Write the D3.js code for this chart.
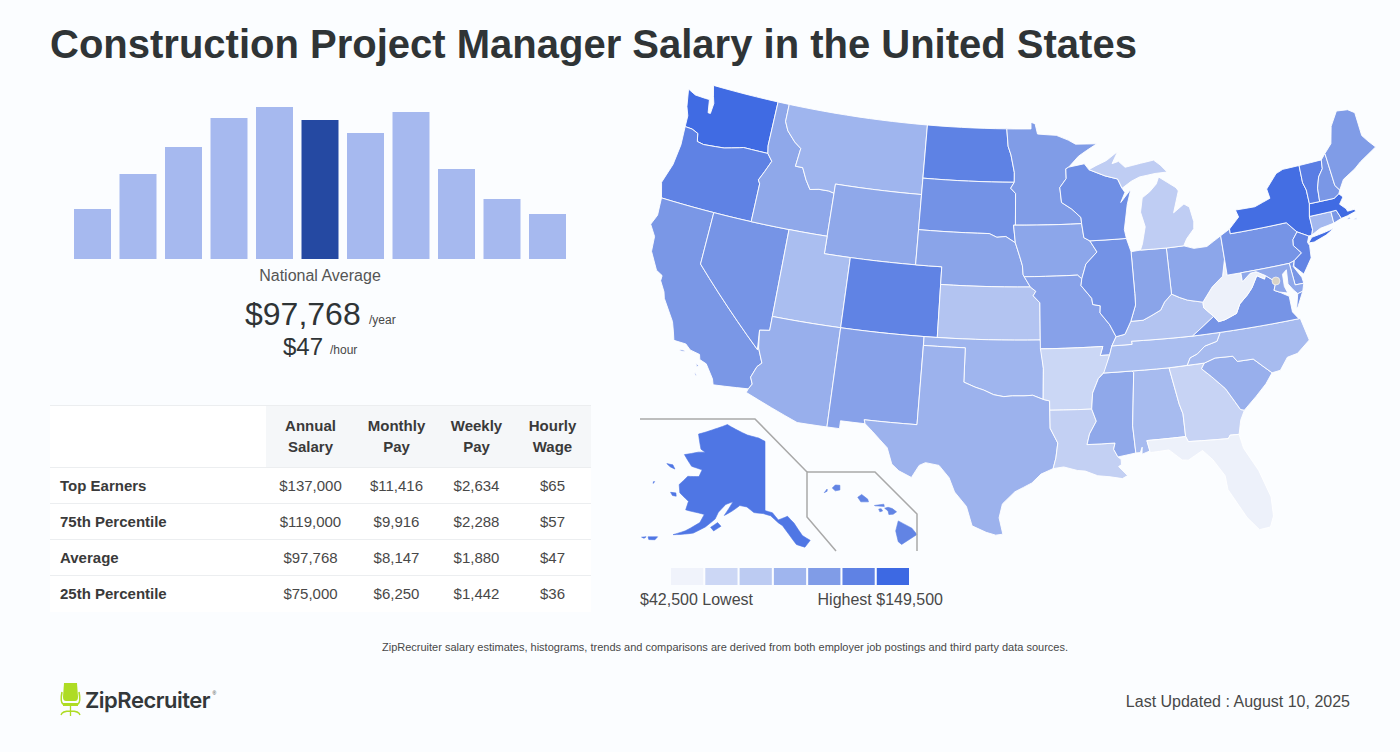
<!DOCTYPE html>
<html>
<head>
<meta charset="utf-8">
<script src="https://cdn.jsdelivr.net/npm/d3@7"></script>
<style>
  html, body { margin: 0; padding: 0; background: #fbfdff; }
  svg { display: block; font-family: "Liberation Sans", Arial, sans-serif; }
</style>
</head>
<body>
<svg id="chart" width="1400" height="752"></svg>
<script>
// histogram
const histogramBins = ['b1', 'b2', 'b3', 'b4', 'b5', 'b6', 'b7', 'b8', 'b9', 'b10', 'b11']
const histogramValues = [50, 85, 112, 141, 152, 139, 126, 147, 90, 60, 45]
const averageBin = 'b6'

// table
const tableColumns = [['Annual', 'Salary'], ['Monthly', 'Pay'], ['Weekly', 'Pay'], ['Hourly', 'Wage']]
const tableRows = ['Top Earners', '75th Percentile', 'Average', '25th Percentile']
const annualSalary = ['$137,000', '$119,000', '$97,768', '$75,000']
const monthlyPay = ['$11,416', '$9,916', '$8,147', '$6,250']
const weeklyPay = ['$2,634', '$2,288', '$1,880', '$1,442']
const hourlyWage = ['$65', '$57', '$47', '$36']

// map legend
const legendColors = ['#f0f3fb', '#ccd7f5', '#bccbf2', '#9fb5ee', '#809ce7', '#5f82e4', '#3d69e3']
const legendMin = 42500
const legendMax = 149500

// estimated state salaries
const stateCodes = ['WA','OR','CA','NV','ID','MT','WY','UT','CO','AZ','NM','ND','SD','NE','KS','OK','TX','MN','IA','MO','AR','LA','MS','AL','GA','FL','SC','NC','TN','KY','VA','WV','OH','IN','IL','WI','MI','PA','NY','NJ','DE','MD','CT','RI','MA','VT','NH','ME','AK','HI']
const stateSalaries = [148000,131700,117000,119000,105000,96000,105000,89000,131000,100000,110000,132000,121000,108000,84000,96000,98000,114000,107000,110000,61000,70000,105000,91000,66000,44000,100000,91000,89000,84000,119000,44000,107000,108000,121000,123000,75000,119000,146000,130000,117000,105000,93000,117000,148000,135000,117000,114000,140000,130000]
const dcLocation = [-77.03, 38.9]

// state outlines, [lon, lat] rings
const stateOutlines = {
  WA: [[[-124.7,48.38],[-124.0,48.17],[-123.1,48.15],[-122.75,48.15],[-122.55,47.4],[-122.35,47.4],[-122.3,48.0],[-122.5,48.4],[-122.75,49],[-117.03,49],[-117.04,46.42],[-116.92,45.99],[-118.98,46],[-119.3,45.93],[-120.5,45.7],[-121.2,45.65],[-122.2,45.58],[-122.75,45.65],[-122.9,46.1],[-123.45,46.25],[-124.05,46.27],[-124.1,46.9],[-124.4,47.4]]],
  OR: [[[-124.05,46.27],[-123.45,46.25],[-122.9,46.1],[-122.75,45.65],[-122.2,45.58],[-121.2,45.65],[-120.5,45.7],[-119.3,45.93],[-118.98,46],[-116.92,45.99],[-116.47,45.6],[-116.85,44.95],[-117.2,44.4],[-117.03,44.2],[-117.03,42],[-124.2,42],[-124.55,42.85],[-124.1,44],[-123.95,45.2]]],
  CA: [[[-124.2,42],[-120,42],[-120,39],[-114.63,35],[-114.57,35.1],[-114.14,34.3],[-114.43,34.05],[-114.72,33.4],[-114.52,33.03],[-114.72,32.72],[-117.12,32.53],[-117.25,32.85],[-117.9,33.6],[-118.4,33.75],[-118.5,34.03],[-119.2,34.15],[-119.6,34.42],[-120.47,34.45],[-120.65,34.9],[-120.9,35.45],[-121.9,36.6],[-122.05,36.95],[-122.5,37.5],[-122.5,37.8],[-123,38],[-123.75,38.95],[-123.85,39.8],[-124.4,40.4],[-124.1,41]],
       [[-119.9,34.05],[-119.55,34.05],[-119.6,33.97],[-119.9,33.97]],[[-118.6,33.48],[-118.35,33.4],[-118.5,33.32]],[[-118.6,33.05],[-118.35,32.85],[-118.45,32.82]]],
  NV: [[[-120,42],[-114.04,42],[-114.04,36.2],[-114.75,36.1],[-114.63,35],[-120,39]]],
  ID: [[[-117.03,49],[-116.05,49],[-116.05,48],[-115.7,47.5],[-114.95,46.95],[-114.35,46.65],[-114.5,45.6],[-113.9,45.6],[-113.45,44.95],[-113,44.45],[-112.3,44.55],[-111.5,44.55],[-111.05,44.47],[-111.05,42],[-117.03,42],[-117.03,44.2],[-117.2,44.4],[-116.85,44.95],[-116.47,45.6],[-116.92,45.99],[-117.04,46.42]]],
  MT: [[[-116.05,49],[-104.05,49],[-104.05,45],[-111.05,45],[-111.05,44.47],[-111.5,44.55],[-112.3,44.55],[-113,44.45],[-113.45,44.95],[-113.9,45.6],[-114.5,45.6],[-114.35,46.65],[-114.95,46.95],[-115.7,47.5],[-116.05,48]]],
  WY: [[[-111.05,45],[-104.05,45],[-104.05,41],[-111.05,41]]],
  UT: [[[-114.04,42],[-111.05,42],[-111.05,41],[-109.05,41],[-109.05,37],[-114.04,37]]],
  CO: [[[-109.05,41],[-102.05,41],[-102.05,37],[-109.05,37]]],
  AZ: [[[-114.04,37],[-109.05,37],[-109.05,31.33],[-111.07,31.33],[-114.81,32.5],[-114.72,32.72],[-114.52,33.03],[-114.72,33.4],[-114.43,34.05],[-114.14,34.3],[-114.57,35.1],[-114.75,36.1],[-114.04,36.2]]],
  NM: [[[-109.05,37],[-103,37],[-103.04,32],[-106.62,32],[-106.53,31.78],[-108.2,31.78],[-108.2,31.33],[-109.05,31.33]]],
  ND: [[[-104.05,49],[-97.23,49],[-97.1,48],[-96.85,47.5],[-96.56,46.5],[-96.56,45.94],[-104.05,45.94]]],
  SD: [[[-104.05,45.94],[-96.56,45.94],[-96.85,45.6],[-96.45,45.3],[-96.45,43.5],[-96.6,43.5],[-96.45,42.5],[-97.2,42.85],[-97.9,42.8],[-98.5,43],[-104.05,43]]],
  NE: [[[-104.05,43],[-98.5,43],[-97.9,42.8],[-97.2,42.85],[-96.45,42.5],[-96.1,41.7],[-95.9,41.2],[-95.85,40.7],[-95.31,40],[-102.05,40],[-102.05,41],[-104.05,41]]],
  KS: [[[-102.05,40],[-95.31,40],[-94.9,39.75],[-95.1,39.5],[-94.61,39.1],[-94.62,37],[-102.05,37]]],
  OK: [[[-103,37],[-94.62,37],[-94.43,35.4],[-94.48,33.64],[-95.2,33.88],[-95.8,33.85],[-96.6,33.85],[-97.2,33.8],[-97.9,33.9],[-98.6,34.15],[-99.2,34.3],[-100,34.56],[-100,36.5],[-103,36.5]]],
  TX: [[[-106.62,32],[-103.04,32],[-103,36.5],[-100,36.5],[-100,34.56],[-99.2,34.3],[-98.6,34.15],[-97.9,33.9],[-97.2,33.8],[-96.6,33.85],[-95.8,33.85],[-95.2,33.88],[-94.48,33.64],[-94.04,33.55],[-94.04,32],[-93.55,31.15],[-93.7,30.3],[-93.9,29.7],[-94.7,29.4],[-95.3,28.9],[-96.4,28.4],[-97.2,27.7],[-97.4,26.9],[-97.15,25.96],[-97.6,25.9],[-98.2,26.05],[-99.1,26.4],[-99.5,27.5],[-100.3,28.3],[-100.7,29.1],[-101.4,29.77],[-102.3,29.88],[-102.7,29.7],[-103.15,28.98],[-104,29.3],[-104.5,29.65],[-104.9,30.55],[-106,31.4],[-106.53,31.78]]],
  MN: [[[-97.23,49],[-95.15,49],[-95.15,49.38],[-94.8,49.3],[-94.6,48.7],[-93,48.6],[-92,48.3],[-91.4,48.05],[-89.6,48],[-90.5,47.65],[-91.2,47.35],[-92.05,46.75],[-92.3,46.66],[-92.3,46.1],[-92.85,45.6],[-92.75,44.75],[-91.95,44.35],[-91.25,43.85],[-91.22,43.5],[-96.45,43.5],[-96.45,45.3],[-96.85,45.6],[-96.56,45.94],[-96.56,46.5],[-96.85,47.5],[-97.1,48]]],
  IA: [[[-96.6,43.5],[-91.22,43.5],[-91.1,42.7],[-90.65,42.5],[-90.15,41.85],[-91.05,41.2],[-91.42,40.38],[-91.73,40.6],[-95.77,40.58],[-95.85,40.7],[-95.9,41.2],[-96.1,41.7],[-96.45,42.5]]],
  MO: [[[-95.77,40.58],[-91.73,40.6],[-91.42,40.38],[-91.5,40],[-90.75,39.25],[-90.7,38.9],[-90.15,38.8],[-90.2,38.4],[-89.55,37.7],[-89.15,37],[-89.5,36.5],[-89.7,36],[-90.37,36],[-90.15,36.5],[-94.62,36.5],[-94.62,37],[-94.61,39.1],[-95.1,39.5],[-94.9,39.75],[-95.31,40]]],
  AR: [[[-94.62,36.5],[-90.15,36.5],[-90.37,36],[-89.7,36],[-90.1,35.1],[-90.6,34.7],[-91.05,33.9],[-91.17,33],[-94.04,33.02],[-94.04,33.55],[-94.48,33.64],[-94.43,35.4]]],
  LA: [[[-94.04,33.02],[-91.17,33],[-90.9,32.3],[-91.4,31.6],[-91.6,31],[-89.73,31],[-89.85,30.65],[-89.6,30.2],[-89.4,30.05],[-89.4,29.75],[-89.6,29.65],[-89.05,29.1],[-89.4,28.95],[-90.2,29.1],[-91,29.2],[-91.8,29.5],[-92.3,29.55],[-93.2,29.78],[-93.9,29.7],[-93.7,30.3],[-93.55,31.15],[-94.04,32]]],
  MS: [[[-90.2,35],[-88.2,35],[-88.1,34.9],[-88.47,31.9],[-88.4,30.35],[-89.6,30.2],[-89.85,30.65],[-89.73,31],[-91.6,31],[-91.4,31.6],[-90.9,32.3],[-91.17,33],[-91.05,33.9],[-90.6,34.7]]],
  AL: [[[-88.2,35],[-85.6,34.98],[-85.18,32.87],[-85,32.3],[-85,31],[-87.6,31],[-87.45,30.4],[-88,30.25],[-87.95,30.65],[-88.1,30.35],[-88.4,30.35],[-88.47,31.9],[-88.1,34.9]]],
  GA: [[[-85.6,34.98],[-83.1,35],[-83.35,34.7],[-82.75,34.2],[-81.9,33.4],[-81.4,32.6],[-81.1,32.1],[-80.85,32.03],[-81.2,31.5],[-81.45,30.72],[-82.05,30.75],[-82.2,30.57],[-84.86,30.7],[-85,31],[-85,32.3],[-85.18,32.87]]],
  FL: [[[-87.6,31],[-85,31],[-84.86,30.7],[-82.2,30.57],[-82.05,30.75],[-81.45,30.72],[-81.3,29.9],[-80.55,28.5],[-80.05,26.9],[-80.1,25.8],[-80.4,25.2],[-81.1,25.15],[-81.75,25.95],[-82.15,26.7],[-82.7,27.7],[-82.75,28.5],[-83.4,29.5],[-84,30.1],[-85,29.65],[-85.4,29.7],[-86.2,30.35],[-87.45,30.3]]],
  SC: [[[-83.1,35],[-82.3,35.2],[-81.05,35.15],[-80.8,34.82],[-79.67,34.8],[-78.55,33.85],[-79.1,33.3],[-79.9,32.7],[-80.85,32.03],[-81.1,32.1],[-81.4,32.6],[-81.9,33.4],[-82.75,34.2],[-83.35,34.7]]],
  NC: [[[-84.32,35],[-83.1,35],[-82.3,35.2],[-81.05,35.15],[-80.8,34.82],[-79.67,34.8],[-78.55,33.85],[-77.95,33.9],[-77.3,34.55],[-76.55,34.65],[-75.55,35.25],[-75.85,36.55],[-81.68,36.59],[-82,36.12],[-82.9,35.95],[-83.5,35.57],[-84.05,35.4]]],
  TN: [[[-89.5,36.5],[-88.05,36.5],[-88.07,36.68],[-83.68,36.6],[-81.68,36.59],[-82,36.12],[-82.9,35.95],[-83.5,35.57],[-84.05,35.4],[-84.32,35],[-85.6,34.98],[-88.2,35],[-90.2,35],[-89.7,36]]],
  KY: [[[-89.5,36.5],[-89.15,37],[-88.5,37.1],[-88,37.8],[-87.1,37.8],[-86.5,38],[-85.75,38.27],[-85.4,38.7],[-84.82,39.1],[-84.25,38.85],[-83.7,38.65],[-82.6,38.42],[-82.6,38.1],[-81.97,37.54],[-83.68,36.6],[-88.07,36.68],[-88.05,36.5]]],
  VA: [[[-83.68,36.6],[-81.97,37.54],[-81.68,37.2],[-81.2,37.25],[-80.3,37.5],[-79.95,38],[-79.3,38.42],[-78.87,38.77],[-78.35,39.4],[-77.83,39.13],[-77.72,39.32],[-77.05,38.85],[-77.3,38.4],[-76.95,38.25],[-76.3,37.9],[-76.3,37],[-75.95,36.55],[-81.68,36.59]],
       [[-75.95,37.15],[-75.65,37.95],[-75.25,38.03],[-75.85,37.2]]],
  WV: [[[-81.97,37.54],[-82.6,38.1],[-82.6,38.42],[-81.75,39.2],[-80.87,39.7],[-80.52,40.64],[-80.52,39.72],[-79.48,39.72],[-79.48,39.2],[-78.8,39.6],[-78.35,39.63],[-77.72,39.32],[-77.83,39.13],[-78.35,39.4],[-78.87,38.77],[-79.3,38.42],[-79.95,38],[-80.3,37.5],[-81.2,37.25],[-81.68,37.2]]],
  OH: [[[-84.82,39.1],[-84.8,41.72],[-83.45,41.72],[-82.7,41.5],[-81.7,41.5],[-80.52,41.98],[-80.52,40.64],[-80.87,39.7],[-81.75,39.2],[-82.6,38.42],[-83.7,38.65],[-84.25,38.85]]],
  IN: [[[-87.53,41.72],[-86.8,41.76],[-84.8,41.72],[-84.82,39.1],[-85.4,38.7],[-85.75,38.27],[-86.5,38],[-87.1,37.8],[-88,37.8],[-87.55,38.7],[-87.53,39.35]]],
  IL: [[[-87.53,39.35],[-87.53,41.72],[-87.8,42.49],[-90.65,42.5],[-90.15,41.85],[-91.05,41.2],[-91.42,40.38],[-91.5,40],[-90.75,39.25],[-90.7,38.9],[-90.15,38.8],[-90.2,38.4],[-89.55,37.7],[-89.15,37],[-88.5,37.1],[-88,37.8],[-87.55,38.7]]],
  WI: [[[-92.3,46.66],[-92.05,46.75],[-91.2,46.85],[-90.75,46.9],[-90.4,46.55],[-89.1,46.13],[-88.1,45.9],[-87.8,45.35],[-87.6,45.1],[-88,44.55],[-87.1,45.25],[-87.5,44.4],[-87.7,43.7],[-87.9,43],[-87.8,42.49],[-90.65,42.5],[-91.1,42.7],[-91.22,43.5],[-91.25,43.85],[-91.95,44.35],[-92.75,44.75],[-92.85,45.6],[-92.3,46.1]]],
  MI: [[[-86.8,41.76],[-84.8,41.72],[-83.45,41.72],[-83.15,42.1],[-82.5,42.6],[-82.42,43],[-82.6,43.85],[-83,44.07],[-83.9,43.65],[-83.3,44.85],[-83.45,45.05],[-84.75,45.78],[-85,45.4],[-85.6,45],[-86.25,44.7],[-86.5,43.9],[-86.25,43.05],[-86.6,42.1]],
       [[-90.4,46.55],[-89.1,46.13],[-88.1,45.9],[-87.8,45.35],[-87,45.7],[-86.3,45.9],[-85,46],[-84,46],[-84.5,46.45],[-85,46.77],[-86.1,46.67],[-87.4,46.53],[-87.9,46.9],[-88.45,46.8],[-87.9,47.47],[-88.9,47],[-89.8,46.75]]],
  PA: [[[-80.52,41.98],[-79.76,42.27],[-79.76,42],[-75.35,42],[-74.7,41.36],[-75.13,40.99],[-75.2,40.65],[-74.72,40.15],[-75.4,39.8],[-75.79,39.72],[-80.52,39.72],[-80.52,40.64]]],
  NY: [[[-79.76,42.27],[-78.9,42.85],[-79.05,43.27],[-77.5,43.25],[-76.2,43.55],[-76.3,44.1],[-75.3,44.85],[-74.7,45],[-73.35,45],[-73.4,44],[-73.25,43.55],[-73.27,42.75],[-73.5,42.05],[-73.5,41.3],[-73.65,41],[-73.9,40.98],[-74.7,41.36],[-75.35,42],[-79.76,42]],
       [[-74.03,40.6],[-73.7,40.87],[-72.6,40.98],[-71.87,41.07],[-72.6,40.8],[-73.6,40.58]]],
  NJ: [[[-74.7,41.36],[-73.9,40.98],[-74.1,40.65],[-74,40.45],[-74.1,39.75],[-74.9,38.95],[-75.5,39.5],[-75.4,39.8],[-74.72,40.15],[-75.2,40.65],[-75.13,40.99]]],
  DE: [[[-75.79,39.72],[-75.4,39.8],[-75.55,39.5],[-75.1,38.8],[-75.05,38.45],[-75.7,38.46]]],
  MD: [[[-79.48,39.72],[-75.79,39.72],[-75.7,38.46],[-75.05,38.45],[-75.25,38.03],[-75.65,37.95],[-75.9,38.2],[-76.2,38.6],[-76.1,39.4],[-76.45,39.2],[-76.5,38.5],[-76.35,38.1],[-76.95,38.25],[-77.3,38.4],[-77.05,38.85],[-77.72,39.32],[-78.35,39.63],[-78.8,39.6],[-79.48,39.2]]],
  CT: [[[-73.5,42.05],[-71.8,42.02],[-71.8,41.35],[-72.9,41.25],[-73.65,41],[-73.5,41.3]]],
  RI: [[[-71.8,42.02],[-71.38,42.02],[-71.15,41.5],[-71.8,41.35]]],
  MA: [[[-73.5,42.05],[-73.27,42.75],[-71.3,42.7],[-70.85,42.88],[-70.6,42.65],[-71,42.3],[-70.6,41.95],[-70.55,41.8],[-70,41.8],[-70.05,42.05],[-69.95,41.67],[-70.65,41.55],[-71.15,41.5],[-71.38,42.02],[-71.8,42.02]],
       [[-70.8,41.36],[-70.5,41.45],[-70.5,41.35]],[[-70.3,41.28],[-70,41.3],[-70.05,41.22]]],
  VT: [[[-73.35,45],[-71.5,45],[-71.6,44.5],[-72.05,44.1],[-72.35,43.5],[-72.45,42.73],[-73.27,42.75],[-73.25,43.55],[-73.4,44]]],
  NH: [[[-71.5,45],[-71.08,45.3],[-70.98,43.4],[-70.7,43.07],[-70.85,42.88],[-71.3,42.7],[-72.45,42.73],[-72.35,43.5],[-72.05,44.1],[-71.6,44.5]]],
  ME: [[[-71.08,45.3],[-70.4,45.75],[-70,46.7],[-69.23,47.46],[-68.3,47.35],[-67.8,47.07],[-67.8,45.7],[-67.45,45.3],[-67,44.85],[-68.5,44.3],[-69.1,44],[-70.2,43.6],[-70.7,43.07],[-70.98,43.4]]],
  AK: [[[-141,69.65],[-143.5,70.1],[-148,70.4],[-152,70.85],[-156.6,71.35],[-161,70.3],[-166.2,68.9],[-163.5,67.1],[-161.8,66.9],[-164,66.6],[-168,65.6],[-164.5,64.5],[-161,64.5],[-161.3,63.5],[-164.5,63.05],[-166,61.6],[-165,60.6],[-162,59.9],[-162,58.7],[-158.5,58.8],[-157,58.8],[-157.6,57.6],[-160.5,56],[-163,55],[-161.5,55.3],[-158.5,56],[-156,57.2],[-154,58.5],[-153.5,59.5],[-151.9,60.7],[-150,61.2],[-151.8,59.2],[-150,59.9],[-148,60.8],[-146,60.7],[-144,60],[-141.5,59.9],[-139.5,59.6],[-137.5,58.6],[-136.5,58.2],[-135,56.9],[-133.5,55.5],[-131.6,55],[-130.1,55.8],[-131.8,56.6],[-133.5,58.4],[-135,59.4],[-137.5,59],[-139,60],[-141,60.3]],
       [[-154.7,57.3],[-153.2,58.1],[-152.2,57.7],[-153.8,56.9]],[[-171.8,63.5],[-170,63.7],[-168.9,63.3],[-170.5,63.3]],[[-167.4,60.2],[-166,60.4],[-165.6,60],[-166.6,59.9]],
       [[-168.2,53.5],[-166.2,54],[-166.5,53.5],[-167.8,53.2]],[[-169.5,53.1],[-168.6,53.4],[-168.9,53.1]],[[-172.9,60.5],[-172.6,60.6],[-172.7,60.3]]],
  HI: [[[-159.78,22.05],[-159.6,22.22],[-159.33,22.2],[-159.33,21.95],[-159.6,21.9]],[[-160.25,21.8],[-160.08,22],[-160.08,21.88]],[[-158.28,21.55],[-158.05,21.7],[-157.7,21.45],[-157.65,21.3],[-158.1,21.3]],[[-157.3,21.1],[-156.75,21.17],[-156.72,21.05],[-157.25,21.08]],[[-157.05,20.9],[-156.9,20.92],[-156.82,20.8],[-156.98,20.75]],[[-156.7,20.95],[-156.5,21],[-156.25,20.93],[-156,20.75],[-156.2,20.62],[-156.45,20.6],[-156.5,20.8]],[[-155.9,20.25],[-155.6,20.1],[-155.1,19.85],[-154.8,19.5],[-155.7,18.95],[-155.9,19.1],[-156.05,19.7]]]
}

const svg = d3.select('#chart')
const TEXT_DARK = '#2f3436'
const TEXT_MID = '#484848'

svg.append('text')
  .attr('x', 50).attr('y', 58)
  .attr('font-size', 40).attr('font-weight', 700).attr('fill', TEXT_DARK)
  .text('Construction Project Manager Salary in the United States')

drawHistogram()
drawTable()
drawMap()
drawLegend()
drawFooter()

function drawHistogram() {
  const xScale = d3.scaleBand().domain(histogramBins).range([74, 566]).paddingInner(0.187)
  const yScale = d3.scaleLinear().domain([0, d3.max(histogramValues)]).range([259, 107])

  svg.selectAll('rect.bar')
    .data(histogramValues)
    .enter()
    .append('rect')
    .attr('class', 'bar')
    .attr('x', (d, i) => xScale(histogramBins[i]))
    .attr('y', d => yScale(d))
    .attr('width', xScale.bandwidth())
    .attr('height', d => yScale(0) - yScale(d))
    .attr('fill', (d, i) => histogramBins[i] === averageBin ? '#2549a2' : '#a6b9ef')

  svg.append('text').attr('x', 320).attr('y', 281).attr('text-anchor', 'middle')
    .attr('font-size', 16).attr('fill', '#555').text('National Average')
  svg.append('text').attr('x', 245).attr('y', 325)
    .attr('font-size', 32).attr('fill', TEXT_DARK).text('$97,768')
  svg.append('text').attr('x', 369).attr('y', 324)
    .attr('font-size', 12).attr('fill', TEXT_MID).text('/year')
  svg.append('text').attr('x', 283).attr('y', 355)
    .attr('font-size', 24).attr('fill', TEXT_DARK).text('$47')
  svg.append('text').attr('x', 330).attr('y', 354)
    .attr('font-size', 12).attr('fill', TEXT_MID).text('/hour')
}

function drawTable() {
  const columns = [annualSalary, monthlyPay, weeklyPay, hourlyWage]
  const columnX = [310.5, 396.5, 476.5, 552.5]
  const rowY = d3.scalePoint().domain(tableRows).range([486, 594])

  svg.append('rect').attr('x', 50).attr('y', 405).attr('width', 541).attr('height', 207).attr('fill', '#fff')
  svg.append('rect').attr('x', 266).attr('y', 406).attr('width', 325).attr('height', 61).attr('fill', '#f5f7f9')

  const lines = [405, 467, 503, 539, 575]
  svg.selectAll('line.rule')
    .data(lines)
    .enter()
    .append('line')
    .attr('class', 'rule')
    .attr('x1', 50).attr('x2', 591)
    .attr('y1', d => d + 0.5).attr('y2', d => d + 0.5)
    .attr('stroke', '#eceef0')

  tableColumns.forEach((col, i) => {
    col.forEach((word, j) => {
      svg.append('text')
        .attr('x', columnX[i]).attr('y', 431 + j * 21)
        .attr('text-anchor', 'middle')
        .attr('font-size', 15).attr('font-weight', 700).attr('fill', '#3a3a3a')
        .text(word)
    })
  })

  tableRows.forEach((row, r) => {
    svg.append('text')
      .attr('x', 60).attr('y', rowY(row) + 5)
      .attr('font-size', 15).attr('font-weight', 700).attr('fill', '#3a3a3a')
      .text(row)
    columns.forEach((col, c) => {
      svg.append('text')
        .attr('x', columnX[c]).attr('y', rowY(row) + 5)
        .attr('text-anchor', 'middle')
        .attr('font-size', 15).attr('fill', TEXT_MID)
        .text(col[r])
    })
  })
}

// lon/lat edges stay straight in lon/lat so borders follow the parallels
function densify(ring) {
  const points = []
  ring.forEach((p, i) => {
    const q = ring[(i + 1) % ring.length]
    const steps = Math.max(1, Math.ceil(Math.abs(q[0] - p[0])))
    for (let s = 0; s < steps; s++) {
      points.push([p[0] + (q[0] - p[0]) * s / steps, p[1] + (q[1] - p[1]) * s / steps])
    }
  })
  return points
}

function drawMap() {
  const lower48 = d3.geoAlbers().scale(1005).translate([1013, 310])
  const alaska = d3.geoConicEqualArea().parallels([55, 65]).rotate([141, 0]).center([0, 71.35]).scale(425).translate([765, 429])
  const hawaii = d3.geoMercator().center([-159.5, 22]).scale(975).translate([837, 489])
  const projectionFor = code => code === 'AK' ? alaska : code === 'HI' ? hawaii : lower48

  const step = (legendMax - legendMin) / (legendColors.length - 1)
  const colorScale = d3.scaleLinear()
    .domain(legendColors.map((c, i) => legendMin + i * step))
    .range(legendColors)

  const outline = d3.line()

  svg.selectAll('path.state')
    .data(stateCodes)
    .enter()
    .append('path')
    .attr('class', 'state')
    .attr('d', code => stateOutlines[code]
      .map(ring => outline(densify(ring).map(projectionFor(code))) + 'Z')
      .join(''))
    .attr('fill', (code, i) => colorScale(stateSalaries[i]))
    .attr('stroke', (code, i) => code === 'AK' || code === 'HI' ? colorScale(stateSalaries[i]) : '#fff')
    .attr('stroke-width', code => code === 'AK' || code === 'HI' ? 0.6 : 0.9)
    .attr('stroke-linejoin', 'round')

  const dc = lower48(dcLocation)
  svg.append('circle').attr('cx', dc[0]).attr('cy', dc[1]).attr('r', 4)
    .attr('fill', '#d9d3c7').attr('stroke', '#fff').attr('stroke-width', 0.6)

  // inset frames
  const frame = d3.line()
  svg.append('path')
    .attr('d', frame([[640, 419], [755, 419], [807, 472], [807, 517], [836, 551]]))
    .attr('fill', 'none').attr('stroke', '#a9a9a9').attr('stroke-width', 1.5)
  svg.append('path')
    .attr('d', frame([[807, 472], [875, 472], [917, 514], [917, 551]]))
    .attr('fill', 'none').attr('stroke', '#a9a9a9').attr('stroke-width', 1.5)
}

function drawLegend() {
  const xScale = d3.scaleBand().domain(legendColors).range([671, 909]).paddingInner(0.06)

  svg.selectAll('rect.swatch')
    .data(legendColors)
    .enter()
    .append('rect')
    .attr('class', 'swatch')
    .attr('x', d => xScale(d))
    .attr('y', 568)
    .attr('width', xScale.bandwidth())
    .attr('height', 17)
    .attr('fill', d => d)

  svg.append('text').attr('x', 640).attr('y', 605)
    .attr('font-size', 16).attr('fill', TEXT_MID).text(`${d3.format('$,')(legendMin)} Lowest`)
  svg.append('text').attr('x', 943).attr('y', 605).attr('text-anchor', 'end')
    .attr('font-size', 16).attr('fill', TEXT_MID).text(`Highest ${d3.format('$,')(legendMax)}`)
}

function drawFooter() {
  svg.append('text').attr('x', 725).attr('y', 651).attr('text-anchor', 'middle')
    .attr('font-size', 11).attr('fill', TEXT_MID)
    .text('ZipRecruiter salary estimates, histograms, trends and comparisons are derived from both employer job postings and third party data sources.')
  svg.append('text').attr('x', 1350).attr('y', 707).attr('text-anchor', 'end')
    .attr('font-size', 16).attr('fill', TEXT_MID).text('Last Updated : August 10, 2025')

  // logo
  const logo = svg.append('g')
  const lime = '#aedc24'
  logo.append('path').attr('fill', lime)
    .attr('d', 'M64 683H77L78 697Q78 701 75 701H66Q63 701 63 697Z')
  logo.append('path').attr('fill', 'none').attr('stroke', lime).attr('stroke-width', 1.6)
    .attr('d', 'M62 692Q60 702 63 704H78Q81 702 79 692')
  logo.append('rect').attr('x', 63).attr('y', 703).attr('width', 15).attr('height', 3).attr('fill', lime)
  logo.append('path').attr('fill', 'none').attr('stroke', lime).attr('stroke-width', 1.3)
    .attr('d', 'M70.5 706V711M61 715Q62 711 70.5 711Q79 711 80 715M70.5 711V716')

  logo.append('text').attr('x', 85).attr('y', 708)
    .attr('font-family', 'Inter, sans-serif').attr('font-size', 22).attr('font-weight', 600)
    .attr('letter-spacing', -0.5).attr('fill', '#33383a').text('ZipRecruiter')
  logo.append('text').attr('x', 212.5).attr('y', 695)
    .attr('font-size', 5).attr('fill', '#33383a').text('®')
}
</script>
</body>
</html>
